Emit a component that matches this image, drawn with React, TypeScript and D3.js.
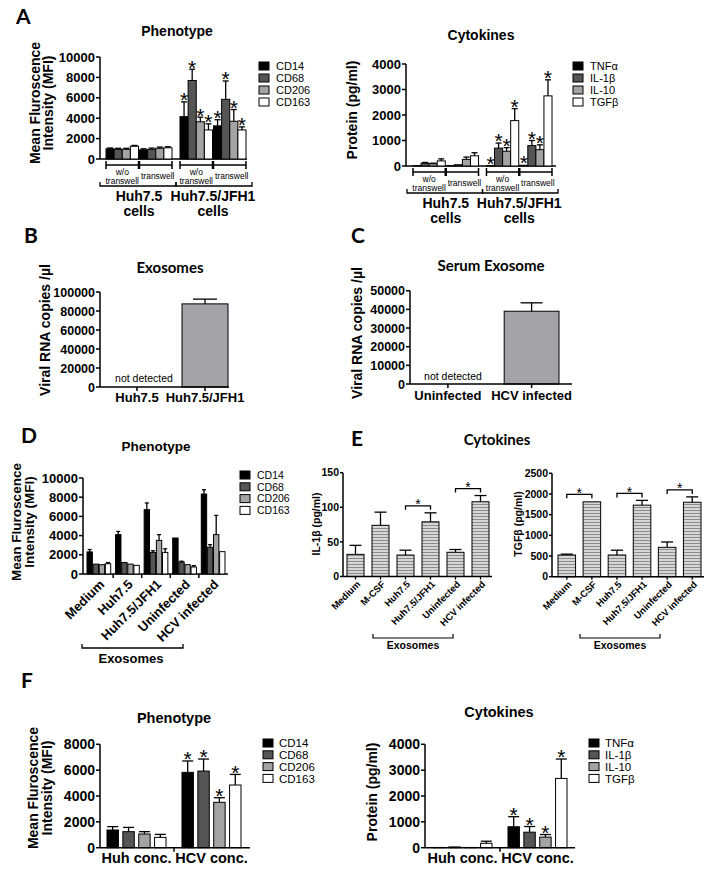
import React from "react";
import * as d3 from "d3";

const SANS = "'Liberation Sans', Arial, Helvetica, sans-serif";
const HUM = "Lato, 'Open Sans', sans-serif";

// ---------------- data ----------------
const markers = ["CD14", "CD68", "CD206", "CD163"];
const cytokines = ["TNFα", "IL-1β", "IL-10", "TGFβ"];
const markerFills = ["#000000", "#555555", "#a3a3a3", "#ffffff"];

// Panel A: [cell][culture][marker]
const aCells = ["Huh7.5", "Huh7.5/JFH1"];
const aCultures = ["w/o transwell", "transwell"];
const aPhenoMean = [
  [[1000, 950, 950, 1250], [900, 950, 1050, 1100]],
  [[4150, 7700, 3650, 2850], [3250, 5850, 3700, 2850]],
];
const aPhenoSem = [
  [[80, 100, 100, 80], [100, 120, 120, 100]],
  [[1450, 1100, 450, 600], [600, 1800, 1150, 300]],
];
const aPhenoSig = [
  [[0, 0, 0, 0], [0, 0, 0, 0]],
  [[1, 1, 1, 1], [1, 1, 1, 1]],
];
const aCytoMean = [
  [[10, 110, 90, 200], [10, 50, 260, 400]],
  [[20, 700, 580, 1780], [30, 800, 640, 2750]],
];
const aCytoSem = [
  [[5, 30, 20, 80], [5, 10, 90, 120]],
  [[10, 200, 140, 470], [10, 200, 190, 630]],
];
const aCytoSig = [
  [[0, 0, 0, 0], [0, 0, 0, 0]],
  [[1, 1, 1, 1], [1, 1, 1, 1]],
];

// Panel B
const bCats = ["Huh7.5", "Huh7.5/JFH1"];
const bMean = [0, 87500];
const bSem = [0, 5000];
// Panel C
const cCats = ["Uninfected", "HCV infected"];
const cMean = [0, 39000];
const cSem = [0, 4500];

// Panel D: [group][marker]
const dCats = ["Medium", "Huh7.5", "Huh7.5/JFH1", "Uninfected", "HCV infected"];
const dMean = [
  [2300, 1030, 970, 1070],
  [4100, 1200, 1030, 900],
  [6700, 2250, 3500, 2250],
  [3750, 1250, 970, 730],
  [8330, 2780, 4100, 2330],
];
const dSem = [
  [250, 0, 0, 120],
  [330, 0, 0, 0],
  [700, 170, 600, 380],
  [0, 80, 0, 140],
  [450, 270, 2000, 0],
];

// Panel E
const eCats = ["Medium", "M-CSF", "Huh7.5", "Huh7.5/JFH1", "Uninfected", "HCV infected"];
const eIL1b = [32, 74, 31, 79, 35, 108];
const eIL1bSem = [13, 19, 7, 13, 4, 9];
const eIL1bSig = [[2, 3], [4, 5]];
const eTGFb = [525, 1810, 525, 1730, 710, 1800];
const eTGFbSem = [20, 12, 115, 115, 130, 130];
const eTGFbSig = [[0, 1], [2, 3], [4, 5]];

// Panel F: [group][marker]
const fGroups = ["Huh conc.", "HCV conc."];
const fPheno = [
  [1370, 1240, 1060, 800],
  [5830, 5930, 3510, 4850],
];
const fPhenoSem = [
  [260, 330, 180, 230],
  [880, 930, 360, 820],
];
const fPhenoSig = [[0, 0, 0, 0], [1, 1, 1, 1]];
const fCyto = [
  [10, 30, 10, 170],
  [810, 600, 410, 2680],
];
const fCytoSem = [
  [5, 10, 5, 80],
  [390, 220, 100, 750],
];
const fCytoSig = [[0, 0, 0, 0], [1, 1, 1, 1]];

// ---------------- helpers ----------------
type BarSpec = {
  x: number; w: number; y: number; base: number; errY: number | null;
  fill: string; cap: number; star?: boolean; starSize?: number; starGap?: number;
};

function BarMark({ b }: { b: BarSpec }) {
  const cx = b.x + b.w / 2;
  const fs = b.starSize || 22;
  const top = b.errY != null ? Math.min(b.errY, b.y) : b.y;
  return (
    <g>
      <rect x={b.x} y={Math.min(b.y, b.base)} width={b.w} height={Math.abs(b.base - b.y)}
        fill={b.fill} stroke="#000" strokeWidth={1} />
      {b.errY != null && b.errY < b.y - 0.5 && (
        <g stroke="#000" strokeWidth={1.3}>
          <line x1={cx} x2={cx} y1={b.y} y2={b.errY} />
          <line x1={cx - b.cap / 2} x2={cx + b.cap / 2} y1={b.errY} y2={b.errY} />
        </g>
      )}
      {b.star && (
        <text x={cx} y={top - (b.starGap ?? 3) + 0.4 * fs} textAnchor="middle"
          fontSize={fs} fontFamily={SANS}>*</text>
      )}
    </g>
  );
}

function YAxis({ scale, x, ticks, fs, tickLen = 4 }: any) {
  const r = scale.range();
  return (
    <g>
      <line x1={x} x2={x} y1={r[0]} y2={r[1]} stroke="#000" strokeWidth={1.5} />
      {ticks.map((t: number) => (
        <g key={t}>
          <line x1={x - tickLen} x2={x} y1={scale(t)} y2={scale(t)} stroke="#000" strokeWidth={1.5} />
          <text x={x - tickLen - 1} y={scale(t)} dy="0.36em" textAnchor="end" fontSize={fs}
            fontWeight="bold" fontFamily={SANS}>{t}</text>
        </g>
      ))}
    </g>
  );
}

function YTitle({ x, y, lines, fs, lh, font = SANS }: any) {
  return (
    <g>
      {lines.map((l: string, i: number) => (
        <text key={i} transform={`translate(${x + i * lh},${y}) rotate(-90)`} textAnchor="middle"
          fontSize={fs} fontWeight="bold" fontFamily={font}>{l}</text>
      ))}
    </g>
  );
}

function Legend({ x, y0, dy, names, fills, fs, tx }: any) {
  return (
    <g>
      {names.map((n: string, i: number) => (
        <g key={n}>
          <rect x={x} y={y0 + i * dy - 4} width={10} height={8} fill={fills[i]} stroke="#000" strokeWidth={1} />
          <text x={tx} y={y0 + i * dy} dy="0.36em" fontSize={fs} fontFamily={SANS}>{n}</text>
        </g>
      ))}
    </g>
  );
}

function Title({ x, y, text, fs, font = SANS }: any) {
  return <text x={x} y={y} textAnchor="middle" fontSize={fs} fontWeight="bold" fontFamily={font}>{text}</text>;
}

function Letter({ x, y, text }: any) {
  return <text x={x} y={y} fontSize={21} fontWeight="bold" fontFamily={HUM}>{text}</text>;
}

// ---------------- Panel A ----------------
function PanelA({ means, sems, sigs, names, yMax, step, y0, yTop, axisX, axisEnd, bandRange, legendX, title, titleX, titleY, ylab, ylabX, ylabY }: any) {
  const y = d3.scaleLinear().domain([0, yMax]).range([y0, yTop]);
  const outer = d3.scaleBand<string>().domain(aCells).range(bandRange).paddingInner(0.108);
  const sub = d3.scaleBand<string>().domain(aCultures).range([0, outer.bandwidth()]).paddingInner(0.03);
  const inner = d3.scaleBand<string>().domain(names).range([0, sub.bandwidth()]);
  const bars: BarSpec[] = [];
  aCells.forEach((c, ci) => aCultures.forEach((t, ti) => names.forEach((m: string, mi: number) => {
    const v = means[ci][ti][mi];
    bars.push({
      x: outer(c)! + sub(t)! + inner(m)!, w: inner.bandwidth(), y: y(v), base: y(0),
      errY: y(v + sems[ci][ti][mi]), fill: markerFills[mi], cap: 6, star: !!sigs[ci][ti][mi], starSize: 21,
    });
  })));
  const ticks = d3.range(0, yMax + 1, step);
  const mid = (outer(aCells[0])! + outer.bandwidth() + outer(aCells[1])!) / 2;
  const r1 = y0 + 6;
  const r2 = y0 + 27;
  return (
    <g>
      <Title x={titleX} y={titleY} text={title} fs={14} />
      <YTitle x={ylabX} y={ylabY} lines={ylab} fs={14} lh={13} />
      <YAxis scale={y} x={axisX} ticks={ticks} fs={13} />
      <line x1={axisX} x2={axisEnd} y1={y0} y2={y0} stroke="#000" strokeWidth={1.5} />
      {bars.map((b, i) => <BarMark key={i} b={b} />)}
      {aCells.map((c, ci) => aCultures.map((t, ti) => {
        const xs = outer(c)! + sub(t)!;
        const xe = xs + sub.bandwidth();
        const cx = (xs + xe) / 2;
        return (
          <g key={c + t}>
            <line x1={xs} x2={xe} y1={r1} y2={r1} stroke="#000" strokeWidth={1.3} />
            <line x1={xs} x2={xs} y1={r1 - 4} y2={r1 + 4} stroke="#000" strokeWidth={1.5} />
            <line x1={xe} x2={xe} y1={r1 - 4} y2={r1 + 4} stroke="#000" strokeWidth={1.5} />
            {ti === 0 ? (
              <g fontSize={8.5} fontFamily={SANS} textAnchor="middle">
                <text x={cx} y={y0 + 16}>w/o</text>
                <text x={cx} y={y0 + 25}>transwell</text>
              </g>
            ) : (
              <text x={cx + 2} y={y0 + 20} fontSize={8.5} fontFamily={SANS} textAnchor="middle">transwell</text>
            )}
          </g>
        );
      }))}
      {aCells.map((c, ci) => {
        const xs = ci === 0 ? outer(c)! - 6 : mid;
        const xe = ci === 0 ? mid : outer(c)! + outer.bandwidth() + 6;
        const cx = outer(c)! + outer.bandwidth() / 2;
        return (
          <g key={c}>
            <path d={`M${xs},${r2 - 4}V${r2}H${xe}V${r2 - 4}`} fill="none" stroke="#000" strokeWidth={1.3} />
            <text x={cx} y={y0 + 42} textAnchor="middle" fontSize={14} fontWeight="bold" fontFamily={SANS}>{c}</text>
            <text x={cx} y={y0 + 57} textAnchor="middle" fontSize={14} fontWeight="bold" fontFamily={SANS}>cells</text>
          </g>
        );
      })}
      <Legend x={legendX} y0={66} dy={12} names={names} fills={markerFills} fs={11} tx={legendX + 17} />
    </g>
  );
}

// ---------------- Panels B / C ----------------
function ViralPanel({ cats, means, sems, yMax, y0, yTop, axisX, axisEnd, bandRange, pad, title, titleX, titleY, ylabX, ylabY, ndX, ndY, labY, cap }: any) {
  const y = d3.scaleLinear().domain([0, yMax]).range([y0, yTop]);
  const x = d3.scaleBand<string>().domain(cats).range(bandRange).paddingInner(pad).paddingOuter(0);
  const ticks = d3.range(0, yMax + 1, yMax / 5);
  return (
    <g>
      <Title x={titleX} y={titleY} text={title} fs={15} font={HUM} />
      <YTitle x={ylabX} y={ylabY} lines={["Viral RNA copies /µl"]} fs={14} lh={0} />
      <YAxis scale={y} x={axisX} ticks={ticks} fs={12.5} />
      {cats.map((c: string, i: number) => means[i] > 0 ? (
        <BarMark key={c} b={{ x: x(c)!, w: x.bandwidth(), y: y(means[i]), base: y(0), errY: y(means[i] + sems[i]), fill: "#a4a4a8", cap }} />
      ) : (
        <text key={c} x={ndX} y={ndY} textAnchor="middle" fontSize={10.5} fontFamily={SANS}>not detected</text>
      ))}
      <line x1={axisX} x2={axisEnd} y1={y0} y2={y0} stroke="#000" strokeWidth={1.5} />
      {cats.map((c: string) => {
        const cx = x(c)! + x.bandwidth() / 2;
        return (
          <g key={c}>
            <line x1={cx} x2={cx} y1={y0} y2={y0 + 4} stroke="#000" strokeWidth={1.5} />
            <text x={cx} y={labY} textAnchor="middle" fontSize={13} fontWeight="bold" fontFamily={SANS}>{c}</text>
          </g>
        );
      })}
    </g>
  );
}

// ---------------- Panel D ----------------
function PanelD() {
  const y0 = 574;
  const y = d3.scaleLinear().domain([0, 10000]).range([y0, 478]);
  const outer = d3.scaleBand<string>().domain(dCats).range([87, 225]).paddingInner(0.17);
  const inner = d3.scaleBand<string>().domain(markers).range([0, outer.bandwidth()]).paddingInner(0.12);
  const bars: BarSpec[] = [];
  dCats.forEach((c, ci) => markers.forEach((m, mi) => {
    const v = dMean[ci][mi];
    bars.push({ x: outer(c)! + inner(m)!, w: inner.bandwidth(), y: y(v), base: y0, errY: y(v + dSem[ci][mi]), fill: markerFills[mi], cap: 4 });
  }));
  const step = outer.step();
  return (
    <g>
      <Letter x={21} y={443} text="D" />
      <Title x={156} y={451} text="Phenotype" fs={13.5} />
      <YTitle x={21} y={522} lines={["Mean Fluroscence", "Intensity (MFI)"]} fs={13.5} lh={13} />
      <YAxis scale={y} x={83} ticks={d3.range(0, 10001, 2000)} fs={13} />
      <line x1={83} x2={228} y1={y0} y2={y0} stroke="#000" strokeWidth={1.5} />
      {dCats.slice(1).map((c) => {
        const tx = outer(c)! - (step - outer.bandwidth()) / 2;
        return <line key={c} x1={tx} x2={tx} y1={y0} y2={y0 + 4} stroke="#000" strokeWidth={1.5} />;
      })}
      {bars.map((b, i) => <BarMark key={i} b={b} />)}
      {dCats.map((c) => {
        const cx = outer(c)! + outer.bandwidth() / 2;
        return (
          <text key={c} transform={`translate(${cx + 3},${y0 + 8}) rotate(-45)`} textAnchor="end" dy="0.35em"
            fontSize={13} fontWeight="bold" fontFamily={SANS}>{c}</text>
        );
      })}
      <path d={`M82,644V648H183V644`} fill="none" stroke="#000" strokeWidth={1.3} />
      <text x={131} y={663} textAnchor="middle" fontSize={13} fontWeight="bold" fontFamily={SANS}>Exosomes</text>
      <Legend x={240} y0={475} dy={11.8} names={markers} fills={markerFills} fs={10.5} tx={257} />
    </g>
  );
}

// ---------------- Panel E ----------------
function EChart({ means, sems, sigs, yMax, step, y0, yTop, axisX, axisEnd, bandRange, pad, ylab, ylabX, exoL, exoR }: any) {
  const y = d3.scaleLinear().domain([0, yMax]).range([y0, yTop]);
  const x = d3.scaleBand<string>().domain(eCats).range(bandRange).paddingInner(pad).paddingOuter(0);
  const ticks = d3.range(0, yMax + 1, step);
  const cx = (c: string) => x(c)! + x.bandwidth() / 2;
  return (
    <g>
      <YTitle x={ylabX} y={524} lines={[ylab]} fs={10.5} lh={0} />
      <YAxis scale={y} x={axisX} ticks={ticks} fs={10.5} tickLen={3} />
      {eCats.map((c, i) => (
        <BarMark key={c} b={{ x: x(c)!, w: x.bandwidth(), y: y(means[i]), base: y0, errY: y(means[i] + sems[i]), fill: "url(#hstripe)", cap: 12 }} />
      ))}
      <line x1={axisX} x2={axisEnd} y1={y0} y2={y0} stroke="#000" strokeWidth={1.5} />
      {eCats.map((c) => (
        <line key={c} x1={cx(c)} x2={cx(c)} y1={y0} y2={y0 + 3} stroke="#000" strokeWidth={1.3} />
      ))}
      {sigs.map(([a, b]: number[], k: number) => {
        const by = Math.min(y(means[a] + sems[a]), y(means[b] + sems[b])) - 7;
        const x1 = cx(eCats[a]);
        const x2 = cx(eCats[b]);
        return (
          <g key={k}>
            <path d={`M${x1},${by + 4}V${by}H${x2}V${by + 4}`} fill="none" stroke="#000" strokeWidth={1.3} />
            <text x={(x1 + x2) / 2} y={by - 2 + 0.4 * 14} textAnchor="middle" fontSize={14} fontFamily={SANS}>*</text>
          </g>
        );
      })}
      {eCats.map((c) => (
        <text key={c} transform={`translate(${cx(c) + 3},${y0 + 6}) rotate(-45)`} textAnchor="end" dy="0.35em"
          fontSize={9.5} fontWeight="bold" fontFamily={SANS}>{c}</text>
      ))}
      <path d={`M${exoL},634V638H${exoR}V634`} fill="none" stroke="#000" strokeWidth={1.2} />
      <text x={(exoL + exoR) / 2} y={649} textAnchor="middle" fontSize={10.5} fontWeight="bold" fontFamily={SANS}>Exosomes</text>
    </g>
  );
}

// ---------------- Panel F ----------------
function FChart({ means, sems, sigs, names, yMax, step, axisX, axisEnd, bandRange, title, titleX, titleY, ylab, ylabX, ylabY, lh, legendX }: any) {
  const y0 = 847.7;
  const y = d3.scaleLinear().domain([0, yMax]).range([y0, 744.3]);
  const outer = d3.scaleBand<string>().domain(fGroups).range(bandRange).paddingInner(0.213);
  const inner = d3.scaleBand<string>().domain(names).range([0, outer.bandwidth()]).paddingInner(0.28);
  const bars: BarSpec[] = [];
  fGroups.forEach((g, gi) => names.forEach((m: string, mi: number) => {
    const v = means[gi][mi];
    bars.push({ x: outer(g)! + inner(m)!, w: inner.bandwidth(), y: y(v), base: y0, errY: y(v + sems[gi][mi]), fill: markerFills[mi], cap: 11, star: !!sigs[gi][mi], starSize: 21 });
  }));
  const midTick = (outer(fGroups[0])! + outer.bandwidth() + outer(fGroups[1])!) / 2;
  return (
    <g>
      <Title x={titleX} y={titleY} text={title} fs={14.5} />
      <YTitle x={ylabX} y={ylabY} lines={ylab} fs={14} lh={lh} />
      <YAxis scale={y} x={axisX} ticks={d3.range(0, yMax + 1, step)} fs={14} />
      {bars.map((b, i) => <BarMark key={i} b={b} />)}
      <line x1={axisX} x2={axisEnd} y1={y0} y2={y0} stroke="#000" strokeWidth={1.5} />
      <line x1={midTick} x2={midTick} y1={y0} y2={y0 + 4} stroke="#000" strokeWidth={1.5} />
      {fGroups.map((g) => (
        <text key={g} x={outer(g)! + outer.bandwidth() / 2} y={863} textAnchor="middle" fontSize={14.5} fontWeight="bold" fontFamily={SANS}>{g}</text>
      ))}
      <Legend x={legendX} y0={743} dy={11.8} names={names} fills={markerFills} fs={11.5} tx={legendX + 16} />
    </g>
  );
}

export default function App() {
  return (
    <svg width={714} height={876} viewBox="0 0 714 876" style={{ position: "absolute", left: 0, top: 0, background: "#fff" }}>
      <defs>
        <pattern id="hstripe" width="4" height="3" patternUnits="userSpaceOnUse">
          <rect width="4" height="3" fill="#d6d6d6" />
          <line x1="0" x2="4" y1="0.5" y2="0.5" stroke="#8c8c8c" strokeWidth="1" />
        </pattern>
      </defs>
      <rect width={714} height={876} fill="#fff" />

      {/* Panel A */}
      <Letter x={16} y={24} text="A" />
      <PanelA means={aPhenoMean} sems={aPhenoSem} sigs={aPhenoSig} names={markers} yMax={10000} step={2000}
        y0={159} yTop={57} axisX={100} axisEnd={247} bandRange={[106, 246]} legendX={259}
        title="Phenotype" titleX={177} titleY={36} ylab={["Mean Fluroscence", "Intensity (MFI)"]} ylabX={40} ylabY={103} />
      <PanelA means={aCytoMean} sems={aCytoSem} sigs={aCytoSig} names={cytokines} yMax={4000} step={1000}
        y0={166} yTop={64} axisX={406} axisEnd={556} bandRange={[413, 552]} legendX={573}
        title="Cytokines" titleX={481} titleY={40} ylab={["Protein (pg/ml)"]} ylabX={357} ylabY={110} />

      {/* Panel B */}
      <Letter x={24} y={243} text="B" />
      <ViralPanel cats={bCats} means={bMean} sems={bSem} yMax={100000} y0={387} yTop={292}
        axisX={100} axisEnd={229} bandRange={[114, 228]} pad={0.324}
        title="Exosomes" titleX={170} titleY={273} ylabX={50} ylabY={330} ndX={144} ndY={382} labY={402} cap={24} />

      {/* Panel C */}
      <Letter x={351} y={243} text="C" />
      <ViralPanel cats={cCats} means={cMean} sems={cSem} yMax={50000} y0={384} yTop={290.7}
        axisX={410} axisEnd={572} bandRange={[420.5, 559]} pad={0.345}
        title="Serum Exosome" titleX={491} titleY={271} ylabX={362} ylabY={333} ndX={453} ndY={380} labY={400} cap={22} />

      {/* Panel D */}
      <PanelD />

      {/* Panel E */}
      <Letter x={351} y={446} text="E" />
      <Title x={497} y={445} text="Cytokines" fs={15} font={HUM} />
      <EChart means={eIL1b} sems={eIL1bSem} sigs={eIL1bSig} yMax={150} step={50} y0={576.5} yTop={472.7}
        axisX={343} axisEnd={492} bandRange={[347, 489]} pad={0.32} ylab="IL-1β (pg/ml)" ylabX={320} exoL={373} exoR={453} />
      <EChart means={eTGFb} sems={eTGFbSem} sigs={eTGFbSig} yMax={2500} step={500} y0={576.7} yTop={473.3}
        axisX={552} axisEnd={704} bandRange={[558, 701]} pad={0.3} ylab="TGFβ (pg/ml)" ylabX={522} exoL={580} exoR={660} />

      {/* Panel F */}
      <Letter x={21} y={688} text="F" />
      <FChart means={fPheno} sems={fPhenoSem} sigs={fPhenoSig} names={markers} yMax={8000} step={2000}
        axisX={100} axisEnd={250} bandRange={[107, 241]} title="Phenotype" titleX={174} titleY={723}
        ylab={["Mean Fluroscence", "Intensity (MFI)"]} ylabX={38} ylabY={788} lh={14} legendX={263} />
      <FChart means={fCyto} sems={fCytoSem} sigs={fCytoSig} names={cytokines} yMax={4000} step={1000}
        axisX={425} axisEnd={575} bandRange={[433, 567]} title="Cytokines" titleX={499} titleY={717}
        ylab={["Protein (pg/ml)"]} ylabX={377} ylabY={792} lh={0} legendX={589} />
    </svg>
  );
}
